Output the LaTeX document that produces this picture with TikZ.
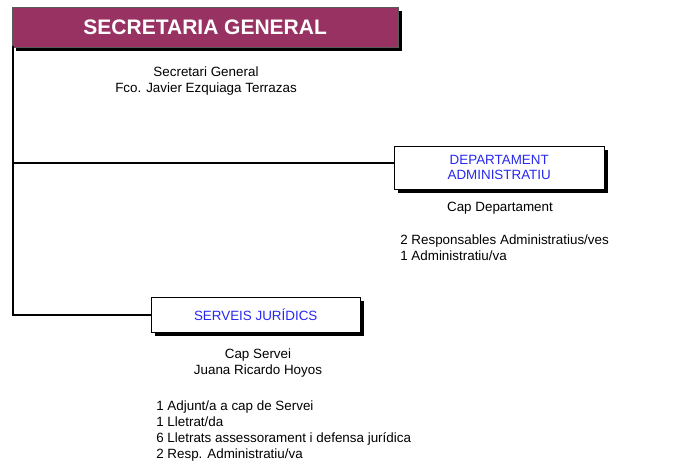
\documentclass[tikz,border=0pt]{standalone}
\usepackage{fontspec}
\setmainfont{Liberation Sans}
\usepackage{tikz}
\usetikzlibrary{positioning,shadows}

\definecolor{sgpurple}{RGB}{152,50,98}
\definecolor{unitblue}{RGB}{40,40,240}

\begin{document}
\begin{tikzpicture}[x=1pt,y=-1pt,node distance=4pt,
      semithick,>=stealth,
      boxshadow/.style={drop shadow={shadow xshift=4pt,shadow yshift=-4pt,fill=black,opacity=1}},
      headbox/.style={draw=gray!70!black,thin,fill=sgpurple,boxshadow,anchor=north west,
        minimum width=386pt,minimum height=40pt,text=white,
        font=\fontsize{21}{24}\selectfont\bfseries},
      unitbox/.style={draw=black,thin,fill=white,boxshadow,anchor=north west,
        text=unitblue,align=center,font=\fontsize{13.4}{15.5}\selectfont},
      info/.style={align=center,font=\fontsize{13.4}{16}\selectfont,inner sep=0pt},
      staff/.style={align=left,font=\fontsize{13.4}{16}\selectfont,inner sep=0pt},
      link/.style={line width=2pt,line cap=rect}]

      \useasboundingbox (0,0) rectangle (689,468);

      % head
      \node[headbox] (sg) at (12,7) {SECRETARIA GENERAL};
      \node[info] (sgcap) at (206,81) {Secretari General\\Fco. Javier Ezquiaga Terrazas};

      % departament administratiu
      \node[unitbox,minimum width=210pt,minimum height=43pt] (da) at (394,146)
        {DEPARTAMENT\\ADMINISTRATIU};
      \node[info] (dacap) at (500,208) {Cap Departament};
      \node[staff] (dastaff) at (400,248) [anchor=west]
        {2 Responsables Administratius/ves\\1 Administratiu/va};

      % serveis juridics
      \node[unitbox,minimum width=209pt,minimum height=35pt] (sj) at (151,297)
        {SERVEIS JURÍDICS};
      \node[info] (sjcap) at (258,363) {Cap Servei\\Juana Ricardo Hoyos};
      \node[staff] (sjstaff) at (156,431) [anchor=west]
        {1 Adjunt/a a cap de Servei\\1 Lletrat/da\\6 Lletrats assessorament i defensa jurídica\\2 Resp. Administratiu/va};

      % links
      \coordinate (trunk) at ([xshift=1pt]sg.south west);
      \coordinate (dain) at ([yshift=4.5pt]da.west);
      \draw[link] (trunk) |- (sj.west);
      \draw[link] (trunk |- dain) -- (dain);
\end{tikzpicture}
\end{document}
